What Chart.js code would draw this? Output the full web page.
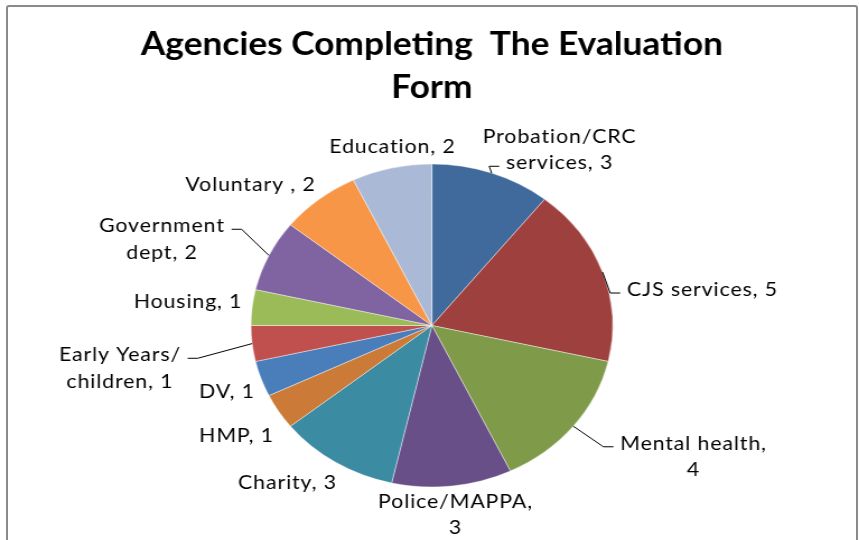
<!DOCTYPE html>
<html>
<head>
<meta charset="utf-8">
<script src="https://cdn.jsdelivr.net/npm/chart.js@4.4.0/dist/chart.umd.min.js"></script>
<style>
  html, body { margin: 0; padding: 0; background: #fff; }
  #frame { position: absolute; left: 6px; top: 5px; width: 848px; height: 600px; border: 2px solid #8a8a8a; border-radius: 3px; }
  #wrap { position: absolute; left: 0; top: 0; width: 767px; height: 540px; transform: scaleX(1.12); transform-origin: 0 0; }
</style>
</head>
<body>
<div id="frame"></div>
<div id="wrap"><canvas id="agencyChart" width="767" height="540"></canvas></div>
<script>
// chart data
const agencies = ['Probation/CRC services', 'CJS services', 'Mental health', 'Police/MAPPA', 'Charity', 'HMP', 'DV',
                  'Early Years/ children', 'Housing', 'Government dept', 'Voluntary ', 'Education'];
const counts = [3, 5, 4, 3, 3, 1, 1, 1, 1, 2, 2, 2];
const sliceColors = ['#406A9C', '#9E413E', '#7F9B4A', '#684F87', '#3B8BA3', '#CB7A37', '#4A7EBB',
                     '#C0504D', '#9BBB59', '#8064A2', '#F79646', '#AAB9D6'];
const chartTitle = ['Agencies Completing  The Evaluation', 'Form'];

// where each data label sits, relative to the pie centre (brk = where the text wraps, lead = line the leader joins)
const labelLayout = [
    { dx: 114, dy: -175.5, brk: 'Probation/CRC', lead: 1 },
    { dx: 241.6, dy: -35.5, lead: 0 },
    { dx: 233.6, dy: 131.5, brk: 'Mental health,', lead: 0 },
    { dx: 21.1, dy: 189.5, brk: 'Police/MAPPA,' },
    { dx: -128.9, dy: 157.5 },
    { dx: -174.4, dy: 110.5 },
    { dx: -182.9, dy: 66.5 },
    { dx: -278.5, dy: 43, brk: 'Early Years/', lead: 0 },
    { dx: -217.7, dy: -23.5 },
    { dx: -241, dy: -86, brk: 'Government', lead: 0 },
    { dx: -161.9, dy: -140.5 },
    { dx: -35.2, dy: -178.5 }
];

const labelFont = '19px Lato';
const lineGap = 26.5;

// draws the outside labels and leader lines
const pieLabels = {
    id: 'pieLabels',
    afterDatasetsDraw(chart) {
        const ctx = chart.ctx;
        const arcs = chart.getDatasetMeta(0).data;
        ctx.save();
        ctx.font = labelFont;
        ctx.letterSpacing = '0.8px';
        ctx.fillStyle = '#000';
        ctx.textAlign = 'center';
        ctx.textBaseline = 'middle';
        arcs.forEach((arc, i) => {
            const lay = labelLayout[i];
            const full = agencies[i] + ', ' + counts[i];
            let lines = [full];
            if (lay.brk) {
                lines = [full.slice(0, lay.brk.length).trim(), full.slice(lay.brk.length).trim()];
            }
            const cx = arc.x + lay.dx;
            const cy = arc.y + lay.dy;
            const y0 = cy - (lines.length - 1) * lineGap / 2;
            lines.forEach((t, k) => ctx.fillText(t, cx, y0 + k * lineGap));

            if (lay.lead !== undefined) {
                const mid = (arc.startAngle + arc.endAngle) / 2;
                const ex = arc.x + arc.outerRadius * Math.cos(mid);
                const ey = arc.y + arc.outerRadius * Math.sin(mid);
                const w = ctx.measureText(lines[lay.lead]).width;
                const ly = y0 + lay.lead * lineGap + 3;
                const right = cx > arc.x;
                const endX = right ? cx - w / 2 - 6 : cx + w / 2 + 6;
                const elbowX = right ? endX - 9 : endX + 9;
                ctx.beginPath();
                ctx.strokeStyle = '#000';
                ctx.lineWidth = 1;
                ctx.moveTo(ex, ey);
                ctx.lineTo(elbowX, ly);
                ctx.lineTo(endX, ly);
                ctx.stroke();
            }
        });
        ctx.restore();
    }
};

const ctx = document.getElementById('agencyChart').getContext('2d');
const agencyChart = new Chart(ctx, {
    type: 'pie',
    data: {
        labels: agencies,
        datasets: [{
            data: counts,
            backgroundColor: sliceColors,
            borderColor: 'rgba(255,255,255,0.55)',
            borderWidth: 0.75
        }]
    },
    options: {
        responsive: false,
        animation: false,
        radius: 161.5,
        layout: { padding: { top: 0, bottom: 8, left: 4.2, right: 0 } },
        plugins: {
            legend: { display: false },
            tooltip: { enabled: false },
            title: {
                display: true,
                text: chartTitle,
                color: '#000',
                font: { family: 'Lato', size: 31.5, weight: 'bold', lineHeight: 1.35 },
                padding: { top: 24, bottom: 10 }
            }
        }
    },
    plugins: [pieLabels]
});
</script>
</body>
</html>
